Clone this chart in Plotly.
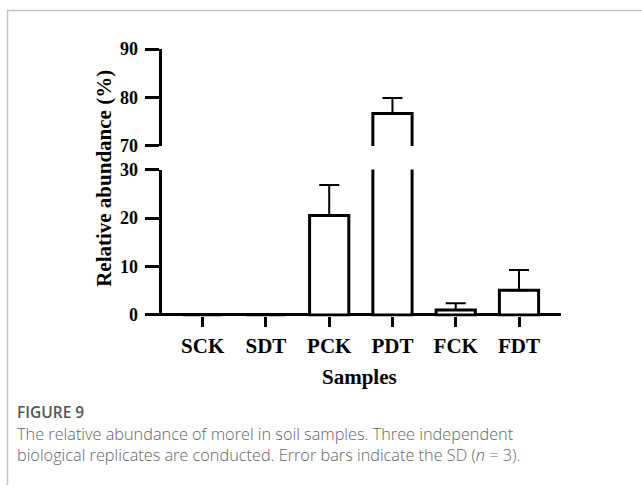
import plotly.graph_objects as go

categories = ["SCK", "SDT", "PCK", "PDT", "FCK", "FDT"]
means = [0.0, 0.0, 20.5, 76.7, 1.0, 5.1]
sds = [0.0, 0.0, 6.3, 3.2, 1.4, 4.2]

LOW_MAX = 30
HIGH_MIN, HIGH_MAX = 70, 90

W, H = 642, 495
# observed screen mapping: screen_y ~= 9.9 + 0.961 * page_y
SY0, SYK = 9.9, 0.961
def px(x):
    return x / W
def py(y):
    p = (y - SY0) / SYK
    return 1 - max(p, 0.5) / H

low_y = list(means)
low_err = [s if m <= LOW_MAX else 0 for m, s in zip(means, sds)]
high_y = [m if m >= HIGH_MIN else None for m in means]
high_err = [s if m >= HIGH_MIN else 0 for m, s in zip(means, sds)]

err_style = dict(type="data", symmetric=False, arrayminus=[0]*len(means),
                 color="black", thickness=2, width=10, visible=True)

fig = go.Figure()
fig.add_trace(go.Bar(x=categories, y=low_y, width=0.62,
                     marker=dict(color="white", line=dict(color="black", width=3)),
                     error_y=dict(array=low_err, **err_style),
                     xaxis="x", yaxis="y", showlegend=False))
fig.add_trace(go.Bar(x=categories, y=high_y, width=0.62,
                     marker=dict(color="white", line=dict(color="black", width=3)),
                     error_y=dict(array=high_err, **err_style),
                     xaxis="x", yaxis="y2", showlegend=False))

SERIF = "Liberation Serif"
def b(s):
    return "<b>" + s + "</b>"

low_ticks = [0, 10, 20, 30]
high_ticks = [70, 80, 90]
tickfont = dict(family=SERIF, size=18, color="black")
catfont = dict(family=SERIF, size=21, color="black")

# lower panel: 0 sits at 315.3 on screen; zeroline acts as the x-axis line
low_bottom = py(316.8)
low_top = py(169.7)
low_min = -30 * 1.5 / (315.3 - 169.7)

fig.update_layout(
    width=W, height=H,
    margin=dict(l=0, r=0, t=0, b=0),
    paper_bgcolor="white", plot_bgcolor="white",
    xaxis=dict(domain=[px(161.7), px(561)], range=[-0.648, 5.664],
               tickvals=categories, ticktext=[b(c) for c in categories],
               showline=False,
               ticks="outside", ticklen=10, tickwidth=3, tickcolor="black",
               tickfont=catfont, showgrid=False, zeroline=False,
               anchor="y", ticklabelstandoff=0),
    yaxis=dict(domain=[low_bottom, low_top], range=[low_min, LOW_MAX],
               tickvals=low_ticks, ticktext=[b(str(t)) for t in low_ticks],
               showline=True, linecolor="black", linewidth=3,
               ticks="outside", ticklen=14, tickwidth=3, tickcolor="black",
               tickfont=tickfont, showgrid=False,
               zeroline=True, zerolinecolor="black", zerolinewidth=3,
               anchor="x", ticklabelstandoff=3),
    yaxis2=dict(domain=[py(146), py(49)], range=[HIGH_MIN, HIGH_MAX],
                tickvals=high_ticks, ticktext=[b(str(t)) for t in high_ticks],
                showline=True, linecolor="black", linewidth=3,
                ticks="outside", ticklen=14, tickwidth=3, tickcolor="black",
                tickfont=tickfont, showgrid=False, zeroline=False,
                anchor="x", ticklabelstandoff=3),
)

fig.add_annotation(text=b("Relative abundance (%)"), x=px(104), y=py(179),
                   xref="paper", yref="paper", textangle=-90, showarrow=False,
                   xanchor="center", yanchor="middle",
                   font=dict(family=SERIF, size=21, color="black"))
fig.add_annotation(text=b("Samples"), x=px(360), y=py(377),
                   xref="paper", yref="paper", showarrow=False,
                   xanchor="center", yanchor="middle",
                   font=dict(family=SERIF, size=21, color="black"))

fig.add_annotation(text="FIGURE 9", x=px(15), y=py(412),
                   xref="paper", yref="paper", showarrow=False,
                   xanchor="left", yanchor="middle",
                   font=dict(family="Open Sans", size=15.5, color="#555555", weight=600))
fig.add_annotation(text="The relative abundance of morel in soil samples. Three independent",
                   x=px(15), y=py(435), xref="paper", yref="paper", showarrow=False,
                   xanchor="left", yanchor="middle",
                   font=dict(family="Open Sans", size=16.3, color="#666666", weight=300))
fig.add_annotation(text="biological replicates are conducted. Error bars indicate the SD (<i>n</i> = 3).",
                   x=px(15), y=py(456), xref="paper", yref="paper", showarrow=False,
                   xanchor="left", yanchor="middle",
                   font=dict(family="Open Sans", size=16.3, color="#666666", weight=300))

# card frame
fig.add_shape(type="line", xref="paper", yref="paper", x0=px(7), x1=1.0, y0=py(6.5), y1=py(6.5),
              line=dict(color="#c4c4c4", width=1.5))
fig.add_shape(type="line", xref="paper", yref="paper", x0=px(7.5), x1=px(7.5), y0=py(6), y1=0,
              line=dict(color="#c4c4c4", width=1.5))

fig.write_html("out.html")
